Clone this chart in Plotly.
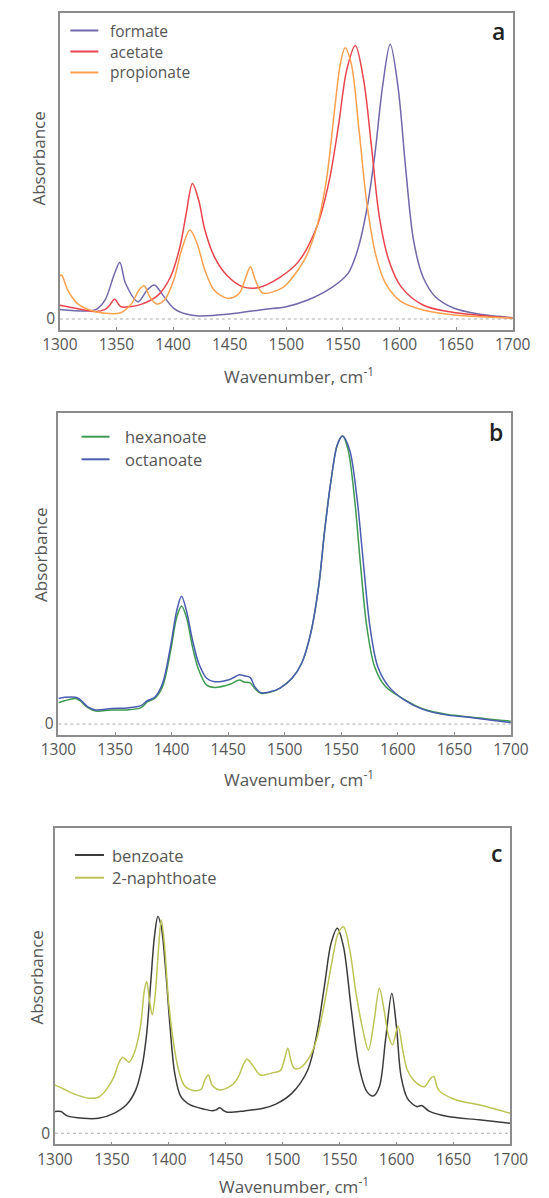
import plotly.graph_objects as go

# ---------------- Panel a ----------------
formate_x = [1300, 1323.5, 1332, 1340, 1348.3, 1353, 1358, 1369, 1377, 1383.5, 1391, 1400.6, 1411.6, 1422.6,
             1450, 1480, 1500, 1519, 1541, 1554.6, 1563, 1571, 1578, 1585, 1591.8, 1598.7, 1605.6, 1612.4,
             1620.7, 1631.7, 1648.2, 1670, 1684, 1700]
formate_y = [0.035, 0.029, 0.035, 0.07, 0.166, 0.206, 0.13, 0.063, 0.105, 0.124, 0.087, 0.039, 0.018, 0.011,
             0.018, 0.035, 0.045, 0.069, 0.117, 0.166, 0.251, 0.396, 0.59, 0.845, 1.0, 0.845, 0.542, 0.287,
             0.154, 0.081, 0.039, 0.018, 0.011, 0.005]

acetate_x = [1300, 1315, 1332, 1340, 1344, 1348.3, 1353.8, 1362, 1373, 1386.8, 1397.8, 1406.1, 1411.6, 1417.1,
             1422.6, 1428.1, 1436.4, 1447.3, 1461.1, 1474.9, 1494, 1510.6, 1527, 1538, 1546.4, 1553.3, 1561,
             1568.4, 1575.3, 1582.2, 1590.5, 1601.5, 1620.7, 1642.7, 1684, 1700]
acetate_y = [0.05, 0.038, 0.027, 0.035, 0.05, 0.072, 0.045, 0.045, 0.055, 0.087, 0.154, 0.263, 0.384, 0.493,
             0.433, 0.324, 0.227, 0.16, 0.118, 0.114, 0.151, 0.208, 0.336, 0.505, 0.712, 0.905, 0.996,
             0.869, 0.627, 0.372, 0.215, 0.117, 0.051, 0.027, 0.008, 0.004]

propionate_x = [1300, 1301.5, 1307, 1315.3, 1326.3, 1340, 1353.8, 1363.5, 1369.8, 1374.5, 1379.4, 1385.5,
                1392.4, 1400.6, 1407.5, 1414.9, 1421.2, 1428.1, 1436.4, 1448.7, 1458.4, 1464.4, 1468.3, 1472.7,
                1479, 1494, 1500, 1516, 1527, 1535.4, 1542.3, 1547.8, 1551.9, 1557.4, 1564.3, 1571.2, 1579.4,
                1587.7, 1601.5, 1620.7, 1648.2, 1684, 1700]
propionate_y = [0.156, 0.16, 0.105, 0.057, 0.033, 0.021, 0.023, 0.057, 0.105, 0.121, 0.081, 0.055,
                0.069, 0.142, 0.251, 0.324, 0.275, 0.178, 0.105, 0.075, 0.093, 0.154, 0.19, 0.142,
                0.095, 0.108, 0.125, 0.215, 0.336, 0.505, 0.748, 0.93, 0.988, 0.93, 0.687, 0.42, 0.227,
                0.13, 0.063, 0.033, 0.015, 0.006, 0.003]

# ---------------- Panel b ----------------
octanoate_x = [1300, 1305.5, 1315, 1319, 1326, 1333, 1347, 1361, 1373, 1378.5, 1385, 1392, 1399, 1404.7,
               1408.8, 1413, 1418.5, 1424, 1431, 1438, 1451.5, 1460, 1464, 1469.4, 1473.5, 1479, 1487,
               1495.5, 1506.5, 1515, 1523, 1530, 1535.4, 1541, 1546.5, 1551.2, 1557.5, 1563.8, 1569.9,
               1575.4, 1582.3, 1592, 1606, 1622, 1644, 1666, 1681, 1700]
octanoate_y = [0.089, 0.093, 0.093, 0.086, 0.06, 0.049, 0.054, 0.056, 0.064, 0.081, 0.093, 0.141, 0.268, 0.396,
               0.444, 0.396, 0.292, 0.211, 0.159, 0.147, 0.155, 0.171, 0.168, 0.162, 0.13, 0.109, 0.112,
               0.124, 0.159, 0.211, 0.315, 0.477, 0.674, 0.847, 0.969, 1.0, 0.951, 0.789, 0.546,
               0.338, 0.199, 0.13, 0.083, 0.051, 0.031, 0.022, 0.014, 0.005]

hexanoate_x = [1300, 1305.5, 1315, 1319, 1326, 1333, 1347, 1361, 1373, 1378.5, 1385, 1392, 1399, 1404.7,
               1408.8, 1413, 1418.5, 1424, 1431, 1438, 1451.5, 1460, 1464, 1469.4, 1473.5, 1479, 1487,
               1495.5, 1506.5, 1515, 1523, 1530, 1535.4, 1541, 1546.5, 1551.2, 1556.1, 1561.6, 1567.2,
               1572.6, 1579.5, 1589.1, 1606, 1622, 1644, 1666, 1681, 1700]
hexanoate_y = [0.074, 0.081, 0.089, 0.081, 0.057, 0.045, 0.049, 0.049, 0.057, 0.077, 0.089, 0.13, 0.251, 0.373,
               0.41, 0.373, 0.268, 0.188, 0.135, 0.127, 0.138, 0.153, 0.146, 0.143, 0.124, 0.107, 0.11,
               0.124, 0.159, 0.211, 0.315, 0.477, 0.674, 0.847, 0.969, 1.0, 0.951, 0.789, 0.546,
               0.338, 0.199, 0.13, 0.085, 0.053, 0.033, 0.024, 0.017, 0.01]

# ---------------- Panel c ----------------
benzoate_x = [1300, 1305.3, 1310.8, 1324.5, 1338.2, 1351.9, 1362.8, 1371, 1376.5, 1380.6, 1384.1, 1387.4,
              1390.4, 1393.4, 1397, 1401.1, 1405.2, 1410.6, 1418.8, 1431.1, 1438, 1441.5, 1444.8, 1448,
              1451.6, 1466.7, 1483.1, 1494, 1508.2, 1522, 1530.1, 1537, 1542.5, 1548, 1553.4, 1560.3,
              1567.1, 1573.9, 1579.4, 1584.9, 1590.3, 1595.8, 1599.9, 1604, 1609.5, 1617.7, 1622,
              1628.6, 1645, 1672.3, 1700]
benzoate_y = [0.1, 0.1, 0.08, 0.069, 0.069, 0.092, 0.131, 0.2, 0.307, 0.461, 0.692, 0.907,
              1.0, 0.953, 0.769, 0.492, 0.277, 0.169, 0.131, 0.111, 0.104, 0.108, 0.118, 0.105,
              0.097, 0.103, 0.115, 0.134, 0.185, 0.292, 0.461, 0.692, 0.877, 0.946, 0.861, 0.569,
              0.307, 0.192, 0.172, 0.215, 0.43, 0.646, 0.492, 0.261, 0.161, 0.123, 0.128,
              0.102, 0.077, 0.062, 0.046]

naphthoate_x = [1300, 1308, 1319, 1330, 1338.2, 1345, 1351.9, 1356, 1359.5, 1365, 1369.6, 1375.1, 1378.6,
                1380.6, 1383, 1385.5, 1388.2, 1390.9, 1393.4, 1396.1, 1399.7, 1403.8, 1407.9, 1413.4,
                1421.6, 1428.4, 1431.7, 1434.7, 1438, 1444.8, 1455.7, 1461.2, 1465.3, 1468.6, 1473.5,
                1480.3, 1492, 1498, 1502, 1504.5, 1507.5, 1510, 1514, 1522, 1528.8, 1535.6, 1542.5,
                1548.8, 1553.4, 1558.9, 1564.4, 1569.8, 1575.3, 1580, 1584.9, 1589, 1593.1, 1596.4,
                1601.3, 1605.4, 1609.5, 1617.7, 1624.5, 1630, 1632.7, 1636.8, 1650.5, 1672.3, 1700]
naphthoate_y = [0.223, 0.203, 0.177, 0.162, 0.166, 0.2, 0.261, 0.323, 0.351, 0.328, 0.369, 0.492, 0.661,
                0.7, 0.615, 0.546, 0.646, 0.846, 0.984, 0.877, 0.615, 0.43, 0.307, 0.223,
                0.197, 0.203, 0.246, 0.269, 0.223, 0.2, 0.223, 0.261, 0.315, 0.341, 0.315,
                0.269, 0.28, 0.29, 0.35, 0.392, 0.33, 0.3, 0.298, 0.338, 0.415, 0.569, 0.769,
                0.923, 0.953, 0.846, 0.646, 0.492, 0.384, 0.508, 0.669, 0.569, 0.446, 0.408,
                0.495, 0.384, 0.292, 0.231, 0.215, 0.254, 0.262, 0.2, 0.157, 0.131, 0.092]

x_ticks = [1300, 1350, 1400, 1450, 1500, 1550, 1600, 1650, 1700]

W, H = 549, 1198
FONT = "Open Sans"
AX_COLOR = "#8c8c8c"
TXT = "#555555"

# panel geometry in pixels: (left, right, top, bottom, ymin, ymax)
panels = [
    (44.8, 529.4, 13.3, 330.0, -0.040, 1.113),
    (43.3, 527.5, 413.3, 735.0, -0.038, 1.079),
    (39.5, 527.0, 828.3, 1144.3, -0.051, 1.407),
]

series = [
    [("formate", formate_x, formate_y, "#7068aa"),
     ("acetate", acetate_x, acetate_y, "#e9434b"),
     ("propionate", propionate_x, propionate_y, "#fba04c")],
    [("hexanoate", hexanoate_x, hexanoate_y, "#3d9a4e"),
     ("octanoate", octanoate_x, octanoate_y, "#4a5db0")],
    [("benzoate", benzoate_x, benzoate_y, "#3b3b3b"),
     ("2-naphthoate", naphthoate_x, naphthoate_y, "#bcc454")],
]

fig = go.Figure()
layout = dict(width=W, height=H, margin=dict(l=0, r=0, t=0, b=0),
              paper_bgcolor="white", plot_bgcolor="white", showlegend=False,
              font=dict(family=FONT, color=TXT))

annotations = []
shapes = []
letters = ["a", "b", "c"]
letter_pos = [(514.7, 31), (512, 431.7), (512, 853.3)]
ytitle_pos = [(21, 159), (24.5, 555), (19.3, 977.5)]
xtitle_pos = [(301, 375), (301, 778), (295, 1185)]
# legend geometry: (line x0, line x1, text x, font size, [row y ...])
legend_geo = [(56, 86, 97, 15.5, [30.5, 51.5, 72.5]),
              (68, 98, 113, 16.5, [436.7, 459.3]),
              (61, 92, 99, 16.5, [855, 877.7])]

for i, (l, r, t, b, ymin, ymax) in enumerate(panels):
    xa = "xaxis" if i == 0 else f"xaxis{i+1}"
    ya = "yaxis" if i == 0 else f"yaxis{i+1}"
    xref = "x" if i == 0 else f"x{i+1}"
    yref = "y" if i == 0 else f"y{i+1}"
    lx0, lx1, ltx, lfs, rows = legend_geo[i]
    for k, (name, xs, ys, col) in enumerate(series[i]):
        fig.add_trace(go.Scatter(x=xs, y=ys, mode="lines", name=name,
                                 line=dict(color=col, width=1.5, shape="spline", smoothing=0.9),
                                 xaxis=xref, yaxis=yref))
        ry = 1 - rows[k] / H
        shapes.append(dict(type="line", xref="paper", yref="paper", x0=lx0 / W, x1=lx1 / W,
                           y0=ry, y1=ry, line=dict(color=col, width=2)))
        annotations.append(dict(text=name, x=ltx / W, y=ry, xref="paper", yref="paper",
                                showarrow=False, xanchor="left", yanchor="middle", borderpad=0,
                                font=dict(family=FONT, size=lfs, color=TXT)))
    layout[xa] = dict(domain=[l / W, r / W], range=[1300, 1700], anchor=yref,
                      tickvals=x_ticks, ticks="inside", ticklen=3, tickcolor=AX_COLOR,
                      showline=True, linecolor=AX_COLOR, linewidth=1.5, mirror=True,
                      showgrid=False, zeroline=False,
                      tickfont=dict(family=FONT, size=15.5, color=TXT))
    layout[ya] = dict(domain=[1 - b / H, 1 - t / H], range=[ymin, ymax], anchor=xref,
                      tickvals=[0], ticktext=["0"], ticks="", showline=True,
                      linecolor=AX_COLOR, linewidth=1.5, mirror=True, showgrid=False,
                      zeroline=False, tickfont=dict(family=FONT, size=15.5, color=TXT))
    shapes.append(dict(type="line", xref=xref, yref=yref, x0=1300, x1=1700, y0=0, y1=0,
                       line=dict(color="#aaaaaa", width=1, dash="dot"), layer="below"))
    lx, ly = letter_pos[i]
    annotations.append(dict(text=letters[i], x=lx / W, y=1 - ly / H, xref="paper", yref="paper",
                            showarrow=False, xanchor="center", yanchor="middle",
                            font=dict(family=FONT, size=23, color="#222222", weight=600)))
    tx, ty = ytitle_pos[i]
    annotations.append(dict(text="Absorbance", x=tx / W, y=1 - ty / H, xref="paper", yref="paper",
                            showarrow=False, textangle=-90, xanchor="center", yanchor="middle",
                            font=dict(family=FONT, size=17, color=TXT)))
    tx, ty = xtitle_pos[i]
    annotations.append(dict(text="Wavenumber, cm<sup>-1</sup>", x=tx / W, y=1 - ty / H,
                            xref="paper", yref="paper", showarrow=False,
                            xanchor="center", yanchor="middle",
                            font=dict(family=FONT, size=17, color=TXT)))

layout["annotations"] = annotations
layout["shapes"] = shapes
fig.update_layout(**layout)
fig.write_html("out.html")
